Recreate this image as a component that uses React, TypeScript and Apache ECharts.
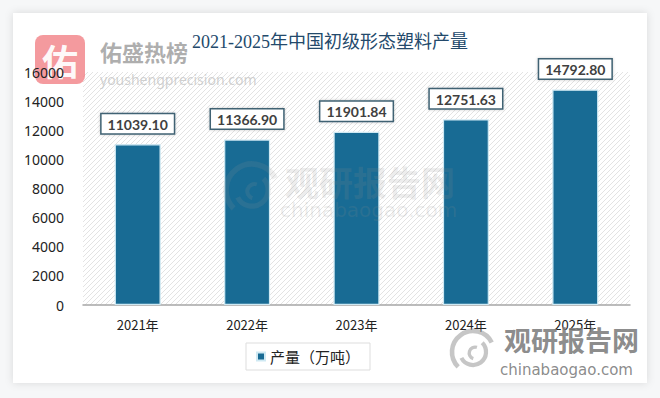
import React, { useEffect, useRef } from 'react';
import * as echarts from 'echarts';

const titleText = '2021-2025年中国初级形态塑料产量';
const categories = ['2021年', '2022年', '2023年', '2024年', '2025年'];
const production = [11039.1, 11366.9, 11901.84, 12751.63, 14792.8];
const seriesName = '产量（万吨）';
const yMin = 0;
const yMax = 16000;
const yInterval = 2000;

const BAR = '#186b94';

function makeHatch(): HTMLCanvasElement {
  const c = document.createElement('canvas');
  c.width = 5;
  c.height = 5;
  const ctx = c.getContext('2d')!;
  ctx.fillStyle = '#ffffff';
  ctx.fillRect(0, 0, 5, 5);
  ctx.strokeStyle = '#e3e3e3';
  ctx.lineWidth = 1;
  ctx.beginPath();
  ctx.moveTo(0, 5); ctx.lineTo(5, 0);
  ctx.moveTo(-1, 1); ctx.lineTo(1, -1);
  ctx.moveTo(4, 6); ctx.lineTo(6, 4);
  ctx.stroke();
  return c;
}

export default function App() {
  const ref = useRef<HTMLDivElement>(null);
  useEffect(() => {
    if (!ref.current) return;
    const chart = echarts.init(ref.current, null, { renderer: 'svg' });
    const hatch = makeHatch();
    const gridL = 83, gridR = 30, gridT = 72, gridB = 93;
    const W = 660, H = 398;
    const swirl = (cx: number, cy: number, r: number, color: string, z: number) => [
      { type: 'arc', z, silent: true, shape: { cx, cy, r, startAngle: Math.PI * 0.75, endAngle: Math.PI * 1.85 }, style: { stroke: color, lineWidth: r * 0.22, fill: 'none' } },
      { type: 'arc', z, silent: true, shape: { cx, cy, r: r * 0.62, startAngle: Math.PI * 1.75, endAngle: Math.PI * 2.85 }, style: { stroke: color, lineWidth: r * 0.2, fill: 'none' } },
      { type: 'arc', z, silent: true, shape: { cx: cx + r * 0.1, cy: cy + r * 0.05, r: r * 0.28, startAngle: Math.PI * 0.6, endAngle: Math.PI * 1.6 }, style: { stroke: color, lineWidth: r * 0.16, fill: 'none' } },
    ];
    chart.setOption({
      animation: false,
      backgroundColor: '#f6f7f8',
      title: {
        text: titleText,
        left: 'center',
        top: 28,
        textStyle: { fontFamily: "'Liberation Serif', 'Noto Sans CJK SC'", fontSize: 18, fontWeight: 'normal', color: '#23496b' },
      },
      legend: {
        data: [seriesName],
        left: 246,
        top: 343,
        icon: 'rect',
        itemWidth: 8,
        itemHeight: 8,
        itemGap: 6,
        padding: [6, 10, 6, 10],
        borderColor: '#dddddd',
        borderWidth: 1,
        textStyle: { fontFamily: "'Noto Sans CJK SC'", fontSize: 15, color: '#222222' },
      },
      grid: { left: gridL, right: gridR, top: gridT, bottom: gridB },
      xAxis: {
        type: 'category',
        data: categories,
        axisLine: { lineStyle: { color: '#a6a6a6', width: 1.5 } },
        axisTick: { show: false },
        axisLabel: { margin: 13, fontSize: 13, color: '#222222', fontFamily: "'Noto Sans CJK SC'" },
      },
      yAxis: {
        type: 'value',
        min: yMin,
        max: yMax,
        interval: yInterval,
        axisLine: { show: false },
        axisTick: { show: false },
        splitLine: { show: false },
        axisLabel: { margin: 19, fontSize: 14, color: '#222222', fontFamily: "'Noto Sans', 'DejaVu Sans'", formatter: (v: number) => String(v) },
      },
      series: [
        {
          name: seriesName,
          type: 'bar',
          data: production,
          barWidth: 46,
          itemStyle: { color: BAR, borderColor: '#cfe9f3', borderWidth: 1.2 },
          label: {
            show: true,
            position: 'top',
            distance: 11,
            formatter: (p: any) => Number(p.value).toFixed(2),
            fontFamily: "'Lato', 'Noto Sans'",
            fontWeight: 'bold',
            fontSize: 14,
            color: '#404040',
            backgroundColor: '#ffffff',
            borderColor: '#3f6273',
            borderWidth: 1.5,
            padding: [3, 6, 2, 6],
            shadowColor: 'rgba(0,0,0,0.2)',
            shadowBlur: 3,
          },
        },
      ],
      graphic: [
        { type: 'rect', z: -100, silent: true, shape: { x: 13, y: 13, width: 634, height: 370 }, style: { fill: '#ffffff', shadowColor: 'rgba(0,0,0,0.12)', shadowBlur: 8 } },
        { type: 'rect', z: -99, silent: true, shape: { x: gridL, y: gridT, width: W - gridL - gridR, height: H - gridT - gridB }, style: { fill: { image: hatch, repeat: 'repeat', imageWidth: 5, imageHeight: 5 } as any } },
        // center faint watermark
        ...swirl(252, 190, 26, 'rgba(150,150,150,0.15)', 50),
        { type: 'text', z: 50, silent: true, x: 285, y: 164, style: { text: '观研报告网', fontSize: 34, fontWeight: 'bold', fontFamily: "'Noto Sans CJK SC'", fill: 'rgba(140,140,140,0.17)' } },
        { type: 'text', z: 50, silent: true, x: 280, y: 200, style: { text: 'chinabaogao.com', fontSize: 20, fontFamily: "'DejaVu Sans'", fill: 'rgba(140,140,140,0.17)' } },
        // bottom-right watermark
        ...swirl(473, 352, 21, 'rgba(160,160,160,0.6)', 60),
        { type: 'text', z: 60, silent: true, x: 504, y: 326, style: { text: '观研报告网', fontSize: 27, fontWeight: 'bold', fontFamily: "'Noto Sans CJK SC'", fill: 'rgba(125,125,125,0.9)' } },
        { type: 'text', z: 60, silent: true, x: 500, y: 362, style: { text: 'chinabaogao.com', fontSize: 15, fontFamily: "'DejaVu Sans'", fill: 'rgba(125,125,125,0.9)' } },
        // top-left watermark (under axis labels)
        { type: 'rect', z: -50, silent: true, shape: { x: 35, y: 35, width: 50, height: 49, r: 8 }, style: { fill: 'rgba(240,120,125,0.75)' } },
        { type: 'text', z: -49, silent: true, x: 60, y: 60, style: { text: '佑', fontSize: 36, fontWeight: 'bold', fontFamily: "'Noto Sans CJK SC'", fill: 'rgba(255,255,255,0.95)', align: 'center', verticalAlign: 'middle' } },
        { type: 'text', z: 70, silent: true, x: 100, y: 40, style: { text: '佑盛热榜', fontSize: 22, fontWeight: 'bold', fontFamily: "'Noto Sans CJK SC'", fill: 'rgba(160,160,160,0.85)' } },
        { type: 'text', z: 70, silent: true, x: 100, y: 72, style: { text: 'youshengprecision.com', fontSize: 14, fontFamily: "'Noto Sans'", fill: 'rgba(200,200,200,0.85)' } },
      ],
    });
    return () => chart.dispose();
  }, []);
  return (
    <div style={{ position: 'fixed', left: 0, top: 0, width: 660, height: 398 }}>
      <div ref={ref} style={{ width: 660, height: 398 }} />
    </div>
  );
}
